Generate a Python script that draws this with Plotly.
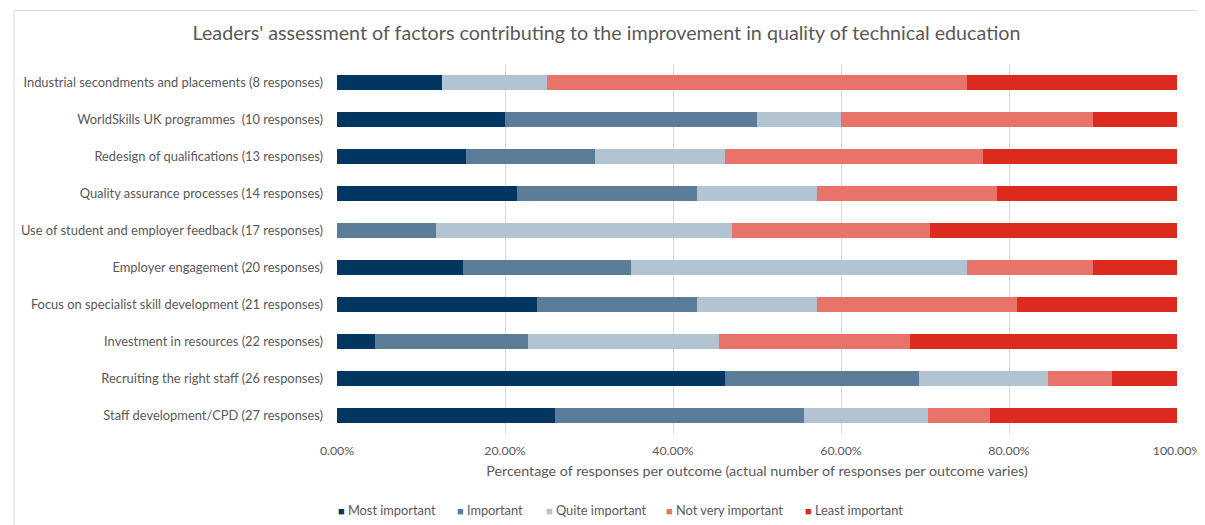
import plotly.graph_objects as go

categories = [
    "Industrial secondments and placements (8 responses)",
    "WorldSkills UK programmes  (10 responses)",
    "Redesign of qualifications (13 responses)",
    "Quality assurance processes (14 responses)",
    "Use of student and employer feedback (17 responses)",
    "Employer engagement (20 responses)",
    "Focus on specialist skill development (21 responses)",
    "Investment in resources (22 responses)",
    "Recruiting the right staff (26 responses)",
    "Staff development/CPD (27 responses)",
]
totals = [8, 10, 13, 14, 17, 20, 21, 22, 26, 27]
most_important = [1, 2, 2, 3, 0, 3, 5, 1, 12, 7]
important = [0, 3, 2, 3, 2, 4, 4, 4, 6, 8]
quite_important = [1, 1, 2, 2, 6, 8, 3, 5, 4, 4]
not_very_important = [4, 3, 4, 3, 4, 3, 5, 5, 2, 2]
least_important = [2, 1, 3, 3, 5, 2, 4, 7, 2, 6]

series_names = ["Most important", "Important", "Quite important", "Not very important", "Least important"]
series_values = [most_important, important, quite_important, not_very_important, least_important]
series_colors = ["#003660", "#5b7d9a", "#b2c3d2", "#e8736a", "#dc2a1f"]

# The page body has an 8px default margin, so figure coords = screen px - 8
OFF = 8
W, H = 1205 - OFF, 525 - OFF
L = 337 - OFF
R = W - (1177 - OFF)
T = 63.5 - OFF
B = H - (434.5 - OFF)
pw, ph = W - L - R, H - T - B


def px_x(p):
    return (p - OFF - L) / pw


def px_y(p):
    return (H - B - (p - OFF)) / ph


fig = go.Figure()
for name, vals, color in zip(series_names, series_values, series_colors):
    fig.add_trace(go.Bar(
        y=categories, x=[v / t for v, t in zip(vals, totals)],
        name=name, orientation="h", marker=dict(color=color, line=dict(width=0)),
        hovertemplate="%{y}<br>" + name + ": %{x:.2%}<extra></extra>",
    ))

font = "Lato, 'Open Sans', sans-serif"
grey = "#595959"
fig.update_layout(
    barmode="stack", bargap=0.57,
    width=W, height=H,
    paper_bgcolor="white", plot_bgcolor="white",
    margin=dict(l=L, r=R, t=T, b=B, autoexpand=False),
    font=dict(family=font, color=grey, size=12),
    title=dict(text="Leaders' assessment of factors contributing to the improvement in quality of technical education",
               x=0.5, xanchor="center", y=1 - (33 - OFF) / H, yanchor="middle",
               font=dict(size=19.7, color=grey, family=font)),
    xaxis=dict(range=[0, 1], tickvals=[0, 0.2, 0.4, 0.6, 0.8, 1.0], tickformat=".2%",
               showgrid=True, gridcolor="#d9d9d9", gridwidth=1, zeroline=False,
               ticks="", ticklabelstandoff=8, tickfont=dict(size=12.3, color=grey),
               title=dict(text="Percentage of responses per outcome (actual number of responses per outcome varies)",
                          font=dict(size=14.3, color=grey), standoff=8)),
    yaxis=dict(autorange="reversed", ticks="", ticklabelstandoff=13,
               tickfont=dict(size=12.9, color=grey), showline=False),
    showlegend=False,
)

# legend drawn as text entries
legend_x = [336, 455, 544, 664, 803]
for name, color, lx in zip(series_names, series_colors, legend_x):
    fig.add_annotation(
        xref="paper", yref="paper", x=px_x(lx), y=px_y(511),
        xanchor="left", yanchor="middle", showarrow=False,
        text=f"<span style='color:{color}; font-size:11px'>■</span> {name}",
        font=dict(size=12.8, color=grey, family=font),
    )

fig.add_shape(type="rect", xref="paper", yref="paper",
              x0=px_x(14), x1=px_x(1215), y0=px_y(540), y1=px_y(10),
              line=dict(color="#d9d9d9", width=1), fillcolor="rgba(0,0,0,0)", layer="below")

fig.write_html("out.html")
